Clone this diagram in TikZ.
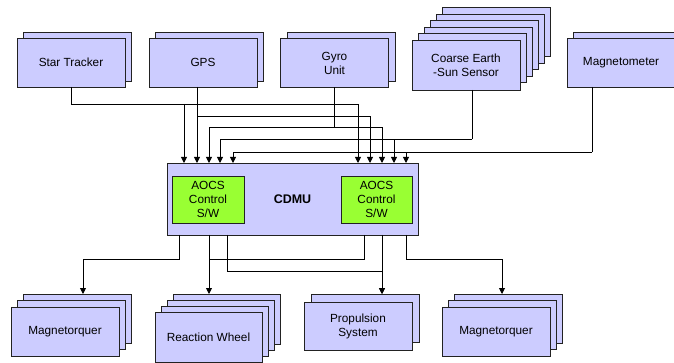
\documentclass[tikz,border=0pt]{standalone}
\usepackage{fontspec}
\setmainfont{Liberation Sans}
\usetikzlibrary{arrows.meta}
\definecolor{lav}{HTML}{CCCCFF}
\definecolor{grn}{HTML}{99FF33}
\definecolor{edge}{HTML}{222222}
\tikzset{
  ubox/.style={draw=edge, line width=0.8pt, fill=lav, minimum width=108pt, minimum height=49pt,
    inner sep=0pt, outer sep=0pt, align=center, font=\fontsize{11.8}{14}\selectfont},
  gbox/.style={ubox, fill=grn, minimum width=72pt, minimum height=47pt},
  wire/.style={draw=black, line width=0.9pt},
  arr/.style={wire, -{Triangle[width=6pt,length=6pt]}},
}
\begin{document}
\begin{tikzpicture}[x=1pt,y=-1pt]
\useasboundingbox (0,0) rectangle (674,363);
% top row
\node[ubox] (st1) at (77,56.5) {};
\node[ubox] (st) at (71,62.5) {Star Tracker};
\node[ubox] (gps1) at (209,56.5) {};
\node[ubox] (gps) at (203,62.5) {GPS};
\node[ubox] (gyro1) at (341,56.5) {};
\node[ubox] (gyro) at (334.5,63) {Gyro\\Unit};
\foreach \i in {5,4,...,1} \node[ubox] (ces\i) at ({466+6*\i},{65-6.6*\i}) {};
\node[ubox, minimum height=50pt] (ces) at (466,65) {Coarse Earth\\-Sun Sensor};
\node[ubox] (mag1) at (627,56.5) {};
\node[ubox] (mag) at (621,62.5) {Magnetometer};
% CDMU
\node[ubox, minimum width=251pt, minimum height=72pt, font=\fontsize{12.5}{15}\selectfont\bfseries] (cdmu) at (292.5,199) {CDMU};
\node[gbox] (swl) at (208,199.5) {AOCS\\Control\\S/W};
\node[gbox, minimum width=71pt] (swr) at (376.5,199.5) {AOCS\\Control\\S/W};
% bottom row
\foreach \i in {2,1} \node[ubox] (mtl\i) at ({65+6*\i},{331.5-6.5*\i}) {};
\node[ubox] (mtl) at (65,331.5) {Magnetorquer};
\foreach \i in {3,2,1} \node[ubox, minimum width=107pt, minimum height=50pt] (rw\i) at ({208.5+6*\i},{337-6*\i}) {};
\node[ubox, minimum width=107pt, minimum height=50pt] (rw) at (208.5,337) {Reaction Wheel};
\node[ubox, minimum height=48pt] (ps1) at (365,318) {};
\node[ubox, minimum height=48pt] (ps) at (358,326) {Propulsion\\System};
\foreach \i in {2,1} \node[ubox] (mtr\i) at ({496+6*\i},{331.5-6.5*\i}) {};
\node[ubox] (mtr) at (496,331.5) {Magnetorquer};
% inputs on CDMU top
\foreach \n/\x in {L1/184,L2/197,L3/209,L4/220,L5/233,R1/358,R2/370,R3/382,R4/394,R5/406}
  \coordinate (in\n) at (cdmu.north -| \x,0);
\coordinate (h1) at (358,104);
\coordinate (j1) at (184,104);
\coordinate (j2) at (197,116);
\coordinate (g3) at (334,127);
\coordinate (c4) at (472,139);
\coordinate (c5) at (592,152);
\draw[arr] (st.south) |- (h1) -- (inR1);
\draw[arr] (j1) -- (inL1);
\draw[arr] (gps.south -| j2) -- (inL2);
\draw[arr] (j2) -| (inR2);
\draw[wire] (gyro.south -| g3) -- (g3);
\draw[arr] (g3) -| (inL3);
\draw[arr] (g3) -| (inR3);
\draw[wire] (ces.south -| c4) -- (c4);
\draw[arr] (c4) -| (inL4);
\draw[arr] (c4) -| (inR4);
\draw[wire] (mag.south -| c5) -- (c5);
\draw[arr] (c5) -| (inL5);
\draw[arr] (c5) -| (inR5);
% outputs on CDMU bottom
\foreach \n/\x in {1/179,2/209,3/227,4/364,5/382,6/406}
  \coordinate (o\n) at (cdmu.south -| \x,0);
\coordinate (t1) at (mtl2.north -| 83,0);
\coordinate (t2) at (rw3.north -| 209,0);
\coordinate (t3) at (ps1.north -| 382,0);
\coordinate (t4) at (mtr2.north -| 502,0);
\draw[arr] (o1) |- (t1 |- 0,259) -- (t1);
\draw[arr] (o2) -- (t2);
\draw[wire] (o4) |- (209,259);
\draw[arr] (o3) |- (t3 |- 0,271) -- (t3);
\draw[arr] (o5) -- (t3);
\draw[arr] (o6) |- (t4 |- 0,259) -- (t4);
\end{tikzpicture}
\end{document}
